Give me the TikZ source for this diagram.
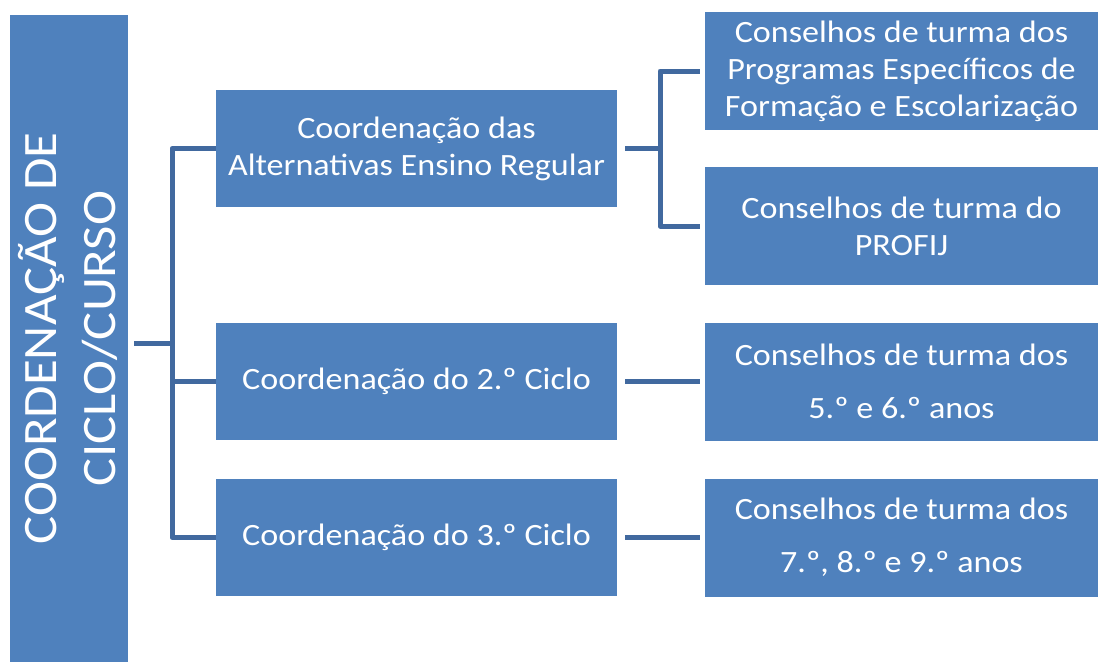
\documentclass[tikz,border=0pt]{standalone}
\usepackage{fontspec}
\setmainfont{Carlito}[FakeStretch=1.1]
\definecolor{boxblue}{HTML}{4F81BD}
\definecolor{lineblue}{HTML}{41699F}
\begin{document}
\begin{tikzpicture}[x=1pt,y=-1pt,
  box/.style={fill=boxblue,inner sep=0pt,text=white,align=center,font=\fontsize{31}{37}\selectfont},
  midbox/.style={box,minimum width=401pt,minimum height=117pt},
  rbox/.style={box,minimum width=393pt,minimum height=118pt},
  conn/.style={draw=lineblue,line width=5pt,line join=round}]
\useasboundingbox (0,0) rectangle (1098,662);
% root
\node[box,minimum width=118pt,minimum height=647pt] (L) at (69,338.5) {};
\node[rotate=90,text=white,align=center,inner sep=0pt,font=\fontsize{48}{59}\selectfont] (Lt) at (67.5,338.5) {COORDENAÇÃO DE\\CICLO/CURSO};
% middle
\node[midbox] (A) at (416.5,148.5) {Coordenação das\\Alternativas Ensino Regular};
\node[midbox] (B) at (416.5,381.5) {Coordenação do 2.º Ciclo};
\node[midbox] (C) at (416.5,537.5) {Coordenação do 3.º Ciclo};
% right
\node[rbox] (R1) at (901.5,71) {Conselhos de turma dos\\Programas Específicos de\\Formação e Escolarização};
\node[rbox] (R2) at (901.5,226) {Conselhos de turma do\\PROFIJ};
\node[rbox] (R3) at (901.5,381.5) {Conselhos de turma dos\\[16pt]5.º e 6.º anos};
\node[rbox] (R4) at (901.5,537.5) {Conselhos de turma dos\\[16pt]7.º, 8.º e 9.º anos};
% connectors
\coordinate (j1) at (172,343);
\coordinate (j2) at (660,148.5);
\draw[conn,shorten <=6pt] (L.east |- j1) -- (j1);
\draw[conn] (A.west) -| (j1) |- (C.west);
\draw[conn] (j1 |- B.west) -- (B.west);
\draw[conn,shorten <=8pt] (A.east) -- (j2);
\draw[conn,shorten <=5pt,shorten >=5pt] (R1.west) -| (j2) |- (R2.west);
\draw[conn,shorten <=8pt,shorten >=5pt] (B.east) -- (R3.west);
\draw[conn,shorten <=8pt,shorten >=5pt] (C.east) -- (R4.west);
\end{tikzpicture}
\end{document}
